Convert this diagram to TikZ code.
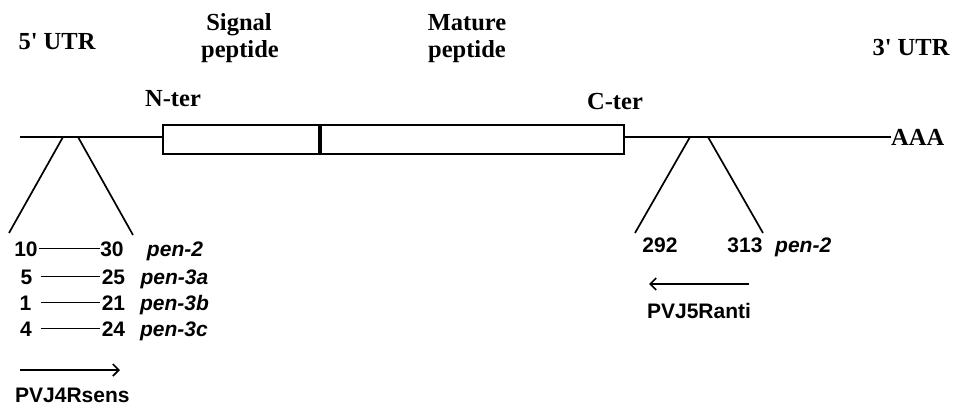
\documentclass[tikz,border=0pt]{standalone}
\usepackage{fontspec}
\newfontfamily\tms{Liberation Serif}[Ligatures=TeXOff]
\newfontfamily\arl{Liberation Sans}
\usetikzlibrary{arrows.meta}

\begin{document}
\begin{tikzpicture}[x=1pt,y=-1pt,
  serif/.style={font=\tms\bfseries\fontsize{24.5}{27}\selectfont, inner sep=0pt, anchor=base},
  sans/.style={font=\arl\bfseries\fontsize{21}{24}\selectfont, inner sep=0pt, anchor=base},
  gene/.style={font=\arl\bfseries\itshape\fontsize{21}{24}\selectfont, inner sep=0pt, anchor=base},
  strand/.style={line width=2.1pt},
  region/.style={draw, line width=2pt, minimum height=29pt, inner sep=0pt},
  wedge/.style={line width=1.7pt},
  span/.style={line width=1.7pt},
  primer/.style={line width=1.7pt, -{Straight Barb[length=6pt,width=12pt,line width=1.7pt]}}]
\useasboundingbox (0,0) rectangle (953,406);

% headings
\node[serif] (utr5) at (57,50) {5' UTR};
\node[serif] (sigA) at (239,31) {Signal};
\node[serif] (sigB) at (240,58) {peptide};
\node[serif] (matA) at (467,31) {Mature};
\node[serif] (matB) at (467,58) {peptide};
\node[serif] (utr3) at (911,56) {3' UTR};
\node[serif] (nter) at (173,107) {N-ter};
\node[serif] (cter) at (615,110) {C-ter};

% coding regions and mRNA strand
\node[region, minimum width=156pt] (sig) at (241,139.5) {};
\node[region, minimum width=303pt] (mat) at (472.5,139.5) {};
\node[serif, anchor=west] (aaa) at (891,137) {AAA};
\coordinate (s5) at (20,137);
\draw[strand] (s5) -- (s5 -| sig.west);
\draw[strand] (s5 -| mat.east) -- (s5 -| aaa.west);

% 5' UTR target window
\coordinate (wa1) at (63,137);  \coordinate (wa2) at (9,233);
\coordinate (wb1) at (78,137);  \coordinate (wb2) at (133,235);
\draw[wedge] (wa1) -- (wa2);
\draw[wedge] (wb1) -- (wb2);

\node[sans] (l1) at (26,256) {10};
\node[sans] (l2) at (26.5,284) {5};
\node[sans] (l3) at (25.5,310) {1};
\node[sans] (l4) at (26,336) {4};
\node[sans] (r1) at (112,256) {30};
\node[sans] (r2) at (113.5,284) {25};
\node[sans] (r3) at (113.5,310) {21};
\node[sans] (r4) at (113.5,336) {24};
\node[gene] (g1) at (175,256) {pen-2};
\node[gene] (g2) at (174.5,284) {pen-3a};
\node[gene] (g3) at (174.5,310) {pen-3b};
\node[gene] (g4) at (174,336) {pen-3c};

\coordinate (a1) at (39,248.5);  \coordinate (b1) at (100,248.5);
\coordinate (a2) at (41,276.5);  \coordinate (b2) at (100,276.5);
\coordinate (a3) at (41,302.5);  \coordinate (b3) at (100,302.5);
\coordinate (a4) at (41,328.5);  \coordinate (b4) at (100,328.5);
\draw[span] (a1) -- (b1);
\draw[span] (a2) -- (b2);
\draw[span] (a3) -- (b3);
\draw[span] (a4) -- (b4);

\coordinate (p4s) at (20,370);  \coordinate (p4e) at (120,370);
\draw[primer] (p4s) -- (p4e);
\node[sans, anchor=base west] (p4) at (15,402) {PVJ4Rsens};

% 3' UTR target window
\coordinate (wc1) at (690,137); \coordinate (wc2) at (635,233);
\coordinate (wd1) at (708,137); \coordinate (wd2) at (763,233);
\draw[wedge] (wc1) -- (wc2);
\draw[wedge] (wd1) -- (wd2);

\node[sans] (n292) at (660,252) {292};
\node[sans] (n313) at (745,252) {313};
\node[gene, anchor=base west] (g5) at (775,252) {pen-2};

\coordinate (p5s) at (749,284); \coordinate (p5e) at (649,284);
\draw[primer] (p5s) -- (p5e);
\node[sans] (p5) at (699,318) {PVJ5Ranti};
\end{tikzpicture}
\end{document}
